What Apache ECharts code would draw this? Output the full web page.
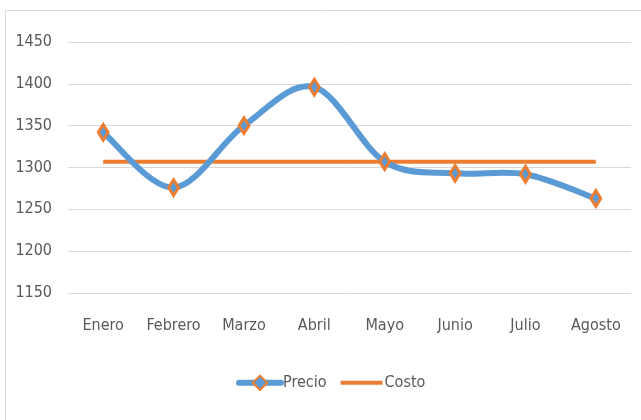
<!DOCTYPE html>
<html>
<head>
<meta charset="utf-8">
<script src="https://cdn.jsdelivr.net/npm/echarts@6/dist/echarts.min.js"></script>
<style>html,body{margin:0;padding:0;background:#fff}#c{width:641px;height:420px}</style>
</head>
<body>
<div id="c"></div>
<script>
var categories = ['Enero','Febrero','Marzo','Abril','Mayo','Junio','Julio','Agosto'];
var precio = [1342, 1276, 1350, 1396, 1307, 1293, 1292, 1263];
var costo = [1307, 1307, 1307, 1307, 1307, 1307, 1307, 1307];
var yTicks = [1150, 1200, 1250, 1300, 1350, 1400, 1450];

var FONT = '"DejaVu Sans Condensed", "Liberation Sans Narrow", sans-serif';
var BLUE = '#5B9BD5', ORANGE = '#ED7D31';

// Excel-like smoothed line: Catmull-Rom style Bezier segments through the
// pixel positions that the chart's own axes give for each data value.
function renderSmooth(params, api) {
  var i = params.dataIndex, n = precio.length;
  if (i >= n - 1) return null;
  var p = function (k) {
    k = Math.max(0, Math.min(n - 1, k));
    return api.coord([k, precio[k]]);
  };
  var p0 = p(i - 1), p1 = p(i), p2 = p(i + 1), p3 = p(i + 2);
  var t = 1 / 6;
  return {
    type: 'bezierCurve',
    shape: {
      x1: p1[0], y1: p1[1], x2: p2[0], y2: p2[1],
      cpx1: p1[0] + (p2[0] - p0[0]) * t, cpy1: p1[1] + (p2[1] - p0[1]) * t,
      cpx2: p2[0] - (p3[0] - p1[0]) * t, cpy2: p2[1] - (p3[1] - p1[1]) * t
    },
    style: {stroke: BLUE, lineWidth: 6, lineCap: 'round', fill: null},
    silent: true
  };
}

var chart = echarts.init(document.getElementById('c'), null, {renderer:'canvas'});
chart.setOption({
  animation: false,
  backgroundColor: '#fff',
  graphic: [{
    type: 'rect', silent: true,
    shape: {x: 5.5, y: 10.5, width: 800, height: 600},
    style: {fill: 'none', stroke: '#d9d9d9', lineWidth: 1}
  }],
  grid: {left: 68, right: 10, top: 42, bottom: 127, containLabel: false},
  legend: {
    bottom: 24, left: 231,
    itemWidth: 42, itemHeight: 18, itemGap: 14,
    textStyle: {fontFamily: FONT, fontSize: 16, color: '#595959', padding: [0, 0, 0, -3]},
    data: [
      {name: 'Precio', lineStyle: {width: 6, color: BLUE, opacity: 1, cap: 'round'}},
      {name: 'Costo', icon: 'path://M0,0L42,0L42,4L0,4Z'}
    ]
  },
  xAxis: {
    type: 'category', data: categories, boundaryGap: true,
    axisLine: {show: false}, axisTick: {show: false},
    axisLabel: {interval: 0, fontFamily: FONT, fontSize: 16, color: '#595959', margin: 25}
  },
  yAxis: {
    type: 'value', min: yTicks[0], max: yTicks[yTicks.length-1], interval: 50,
    axisLine: {show: false}, axisTick: {show: false},
    axisLabel: {fontFamily: FONT, fontSize: 16, color: '#595959', margin: 16,
      formatter: function (v) { return String(v); }},
    splitLine: {lineStyle: {color: '#d9d9d9', width: 1}}
  },
  series: [{
    name: 'Precio', type: 'line', data: precio,
    lineStyle: {color: BLUE, width: 6, opacity: 0},
    symbol: 'diamond', symbolSize: [10, 16], showSymbol: true,
    itemStyle: {color: BLUE, borderColor: ORANGE, borderWidth: 3},
    z: 4
  }, {
    name: 'Costo', type: 'line', data: costo,
    lineStyle: {color: ORANGE, width: 4},
    itemStyle: {color: ORANGE},
    symbol: 'none', showSymbol: false, z: 2
  }, {
    name: 'PrecioCurva', type: 'custom',
    data: precio.map(function (v, i) { return [i, v]; }),
    renderItem: renderSmooth, z: 3, silent: true
  }]
});
</script>
</body>
</html>
